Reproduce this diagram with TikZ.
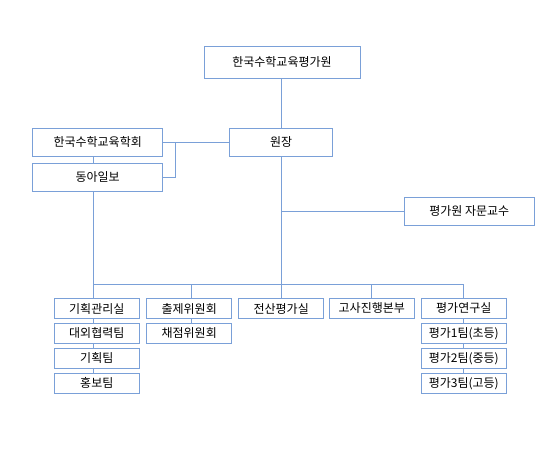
\documentclass[tikz,border=0pt]{standalone}
\usepackage{fontspec}
\setmainfont{Noto Sans CJK KR}
\usetikzlibrary{calc}
\definecolor{linkblue}{RGB}{122,160,216}

\begin{document}
\begin{tikzpicture}[x=1pt, y=-1pt, line width=1pt,
    every node/.style={font=\fontsize{12}{14}\selectfont},
    box/.style={draw=linkblue, fill=white, inner sep=0pt, minimum width=130pt, minimum height=28pt},
    unitbox/.style={box, minimum width=85pt, minimum height=20pt},
    link/.style={draw=linkblue}]

    \useasboundingbox (0,0) rectangle (560,458);

    % Top of the chart
    \node[box, minimum width=156pt, minimum height=32pt] (institute) at (282,62) {한국수학교육평가원};
    \node[box, minimum width=103pt] (director) at (281.2,142.3) {원장};

    % Partners at the left
    \node[box] (society) at (97.7,142.3) {한국수학교육학회};
    \node[box] (dongA) at (97.7,177.2) {동아일보};

    % Advisors at the right
    \node[box] (advisor) at (469.3,211.2) {평가원 자문교수};

    % Units, one column each
    \node[unitbox] (planoffice) at (96.8,308.5) {기획관리실};
    \node[unitbox] (relations) at (96.8,333.3) {대외협력팀};
    \node[unitbox] (planteam) at (96.8,358.3) {기획팀};
    \node[unitbox] (pressteam) at (96.8,383.3) {홍보팀};

    \node[unitbox] (setting) at (189.2,308.5) {출제위원회};
    \node[unitbox] (scoring) at (189.2,333.3) {채점위원회};

    \node[unitbox] (computing) at (281.2,308.5) {전산평가실};

    \node[unitbox] (examhq) at (371.8,308.5) {고사진행본부};

    \node[unitbox] (research) at (463.8,308.5) {평가연구실};
    \node[unitbox] (team1) at (463.8,333.3) {평가1팀(초등)};
    \node[unitbox] (team2) at (463.8,358.3) {평가2팀(중등)};
    \node[unitbox] (team3) at (463.8,383.3) {평가3팀(고등)};

    % Bus line and left spine
    \coordinate (bus) at (0,284.3);
    \coordinate (spine) at (93.3,0);
    \coordinate (bracket) at (175.3,0);

    % Trunk
    \draw[link] (director.north |- institute.south) -- (director.north);
    \draw[link] (director.south) -- (director.south |- bus);
    \draw[link] (director.south |- advisor.west) -- (advisor.west);

    % Bracket to the partners
    \draw[link] (society.east) -- (director.west);
    \draw[link] (society.east -| bracket) |- (dongA.east);
    \draw[link] (society.south -| spine) -- (dongA.north -| spine);

    % Bus to the units
    \draw[link] (dongA.south -| spine) -- (bus -| spine) -- (bus -| research.north);
    \draw[link] (bus -| spine) -- (planoffice.north -| spine);
    \draw[link] (bus -| 191.7,0) -- (setting.north -| 191.7,0);
    \draw[link] (bus -| computing.north) -- (computing.north);
    \draw[link] (bus -| examhq.north) -- (examhq.north);
    \draw[link] (bus -| research.north) -- (research.north);

    % Inside the columns
    \draw[link] (planoffice.south -| spine) -- (relations.north -| spine);
    \draw[link] (relations.south -| spine) -- (planteam.north -| spine);
    \draw[link] (planteam.south -| spine) -- (pressteam.north -| spine);
    \draw[link] (setting.south -| 191.7,0) -- (scoring.north -| 191.7,0);
    \draw[link] (research.south) -- (team1.north);
    \draw[link] (team1.south) -- (team2.north);
    \draw[link] (team2.south) -- (team3.north);

\end{tikzpicture}
\end{document}
